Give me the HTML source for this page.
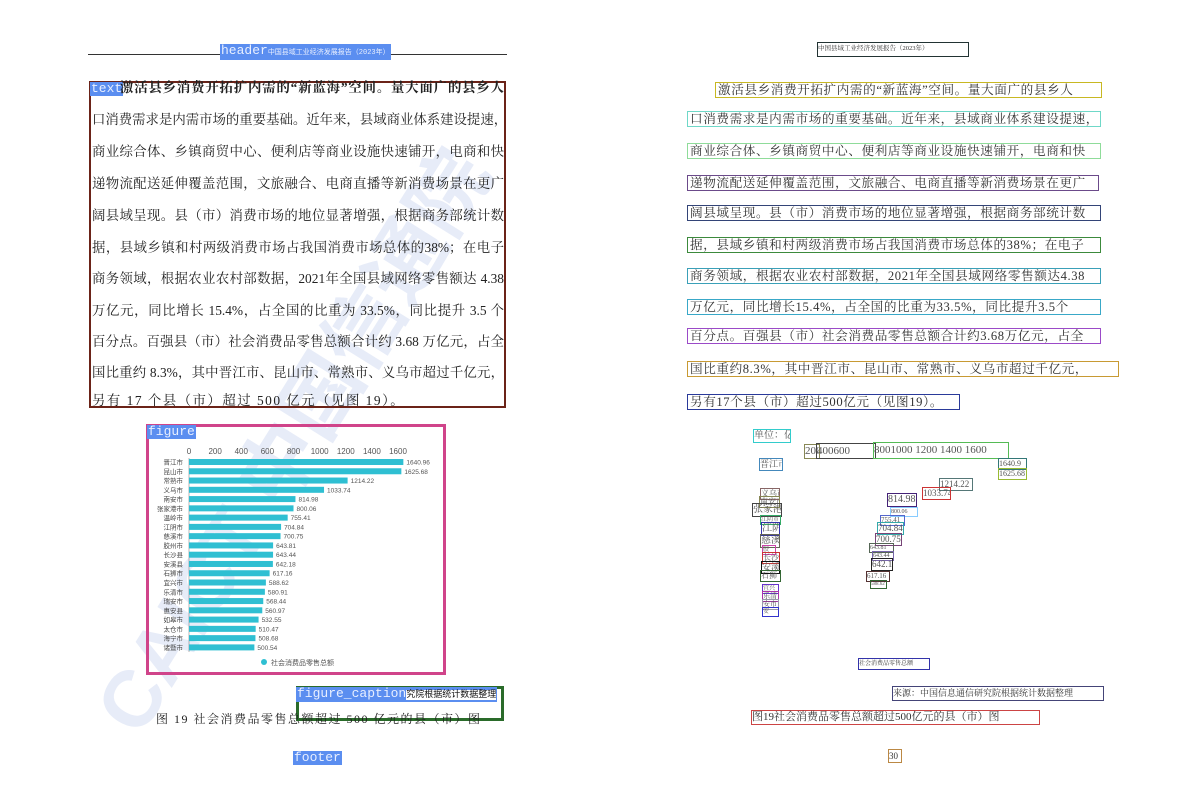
<!DOCTYPE html>
<html><head><meta charset="utf-8">
<style>
body{margin:0;width:1192px;height:808px;background:#fff;position:relative;overflow:hidden;font-family:"Liberation Serif","Noto Serif CJK SC",serif;}
.abs{position:absolute;}
.lbl{position:absolute;background:#5b8ef0;color:#e8efff;font-family:"Liberation Mono",monospace;font-size:13px;line-height:14px;padding:0 1px;}
.tl{position:absolute;left:92px;width:412px;font-size:13.4px;color:#222;text-align:justify;text-align-last:justify;white-space:nowrap;line-height:16px;}
.rl{position:absolute;font-size:12.6px;color:#333;white-space:nowrap;line-height:14px;padding:0 2px;box-sizing:border-box;letter-spacing:0.6px;}
.wm{position:absolute;color:rgba(165,185,228,0.27);font-family:"Liberation Sans","Noto Sans CJK SC",sans-serif;font-weight:bold;transform-origin:left top;white-space:nowrap;}
</style></head><body>
<div class="wm" style="left:62px;top:690px;font-size:80px;transform:rotate(-58deg);">CAICT 中国信通院</div>

<!-- left page -->
<div class="abs" style="left:88px;top:54px;width:419px;height:1px;background:#333;"></div>
<div class="lbl" style="left:220px;top:44px;">header<span style="font-size:7px;">中国县域工业经济发展报告（2023年）</span></div>

<div class="abs" style="left:89px;top:81px;width:413px;height:323px;border:2px solid #6b2318;"></div>
<div class="lbl" style="left:90px;top:82px;">text</div>
<div id="ltext"></div>

<div class="abs" style="left:146px;top:424px;width:294px;height:245px;border:3px solid #d0448a;"></div>
<div class="lbl" style="left:147px;top:425px;">figure</div>
<svg id="chart" class="abs" style="left:0;top:0;" width="1192" height="808"></svg>

<div class="abs" style="left:296px;top:686px;width:202px;height:29px;border:3px solid #2a6b2a;"></div>
<div class="lbl" style="left:296px;top:687px;">figure_caption<span style="font-size:9px;color:#111;background:#fff;">究院根据统计数据整理</span></div>
<div class="abs" style="left:156px;top:710px;font-size:12px;color:#222;letter-spacing:1.5px;white-space:nowrap;">图 19 社会消费品零售总额超过 500 亿元的县（市）图</div>
<div class="lbl" style="left:293px;top:751px;">footer</div>

<!-- right page -->
<div class="abs" style="left:817px;top:42px;width:150px;height:13px;border:1px solid #233;font-size:6.5px;color:#333;line-height:12px;">中国县域工业经济发展报告（2023年）</div>
<div id="rtext"></div>
<div id="rchart"></div>
<div class="abs" style="left:858px;top:658px;width:70px;height:10px;border:1px solid #33a;font-size:6px;line-height:10px;color:#333;">社会消费品零售总额</div>
<div class="abs" style="left:892px;top:686px;width:210px;height:13px;border:1px solid #447;font-size:9px;line-height:13px;color:#333;">来源：中国信息通信研究院根据统计数据整理</div>
<div class="abs" style="left:751px;top:710px;width:287px;height:13px;border:1px solid #c44;font-size:11px;line-height:13px;color:#333;">图19社会消费品零售总额超过500亿元的县（市）图</div>
<div class="abs" style="left:888px;top:749px;width:12px;height:12px;border:1px solid #b84;font-size:9px;line-height:12px;color:#333;">30</div>

<script>
const cities=["晋江市","昆山市","常熟市","义乌市","南安市","张家港市","温岭市","江阴市","慈溪市","胶州市","长沙县","安溪县","石狮市","宜兴市","乐清市","瑞安市","惠安县","如皋市","太仓市","海宁市","诸暨市"];
const values=[1640.96,1625.68,1214.22,1033.74,814.98,800.06,755.41,704.84,700.75,643.81,643.44,642.18,617.16,588.62,580.91,568.44,560.97,532.55,510.47,508.68,500.54];
const ticks=[0,200,400,600,800,1000,1200,1400,1600];
const NS="http://www.w3.org/2000/svg";
const svg=document.getElementById('chart');
const x=v=>189+v*(209/1600);
const y=i=>462+i*9.27;
function mk(t,a){const e=document.createElementNS(NS,t);for(const k in a)e.setAttribute(k,a[k]);svg.appendChild(e);return e;}
ticks.forEach(t=>{const e=mk('text',{x:x(t),y:454,'font-size':8,'text-anchor':'middle',fill:'#555','font-family':'Liberation Sans, sans-serif'});e.textContent=t;

});
const ax=mk('line',{x1:189,y1:458,x2:189,y2:652,stroke:'#888','stroke-width':0.6});


cities.forEach((c,i)=>{
 const b=mk('rect',{x:189,y:y(i)-3,width:x(values[i])-189,height:6,fill:'#2fbfd2'});
 
 
 const l=mk('text',{x:183,y:y(i)+2.5,'font-size':6.5,'text-anchor':'end',fill:'#444','font-family':'Noto Sans CJK SC, sans-serif'});l.textContent=c;
 
 
 const v=mk('text',{x:x(values[i])+3,y:y(i)+2.5,'font-size':6.5,fill:'#555','font-family':'Liberation Sans, sans-serif'});v.textContent=values[i].toFixed(2);
 
 
});
const lc=mk('circle',{cx:264,cy:662,r:3,fill:'#2fbfd2'});


const lt=mk('text',{x:271,y:665,'font-size':7,fill:'#555','font-family':'Noto Sans CJK SC, sans-serif'});lt.textContent='社会消费品零售总额';



const lines=["激活县乡消费开拓扩内需的“新蓝海”空间。量大面广的县乡人","口消费需求是内需市场的重要基础。近年来，县域商业体系建设提速，","商业综合体、乡镇商贸中心、便利店等商业设施快速铺开，电商和快","递物流配送延伸覆盖范围，文旅融合、电商直播等新消费场景在更广","阔县域呈现。县（市）消费市场的地位显著增强，根据商务部统计数","据，县域乡镇和村两级消费市场占我国消费市场总体的38%；在电子","商务领域，根据农业农村部数据，2021年全国县域网络零售额达 4.38","万亿元，同比增长 15.4%，占全国的比重为 33.5%，同比提升 3.5 个","百分点。百强县（市）社会消费品零售总额合计约 3.68 万亿元，占全","国比重约 8.3%，其中晋江市、昆山市、常熟市、义乌市超过千亿元，","另有 17 个县（市）超过 500 亿元（见图 19）。"];
const ly=[80,112,144,176,208,240,271,303,334,365,393];
const lt2=document.getElementById('ltext');
lines.forEach((s,i)=>{const d=document.createElement('div');d.className='tl';d.style.top=ly[i]+'px';d.textContent=s;
 if(i==0){d.style.left='120px';d.style.width='384px';d.style.fontWeight='bold';}
 if(i==10){d.style.textAlignLast='left';d.style.width='auto';d.style.letterSpacing='1.5px';}
 
 
 lt2.appendChild(d);});

const rl=["激活县乡消费开拓扩内需的“新蓝海”空间。量大面广的县乡人","口消费需求是内需市场的重要基础。近年来，县域商业体系建设提速，","商业综合体、乡镇商贸中心、便利店等商业设施快速铺开，电商和快","递物流配送延伸覆盖范围，文旅融合、电商直播等新消费场景在更广","阔县域呈现。县（市）消费市场的地位显著增强，根据商务部统计数","据，县域乡镇和村两级消费市场占我国消费市场总体的38%；在电子","商务领域，根据农业农村部数据，2021年全国县域网络零售额达4.38","万亿元，同比增长15.4%，占全国的比重为33.5%，同比提升3.5个","百分点。百强县（市）社会消费品零售总额合计约3.68万亿元，占全","国比重约8.3%，其中晋江市、昆山市、常熟市、义乌市超过千亿元，","另有17个县（市）超过500亿元（见图19）。"];
const rtop=[82,111,143,175,205,237,268,299,328,361,394];
const rleft=[715,687,687,687,687,687,687,687,687,687,687];
const rw=[387,414,414,412,414,414,414,414,414,432,273];
const rc=['#c8b822','#6fd8c8','#8fdc9a','#6b4a8a','#334477','#3c8a3c','#3aa0b8','#39a8c8','#9b4ac8','#c89a33','#2a3a9a'];
const rt=document.getElementById('rtext');
rl.forEach((s,i)=>{const d=document.createElement('div');d.className='rl';
 d.style.cssText+=`left:${rleft[i]}px;top:${rtop[i]}px;width:${rw[i]}px;height:16px;border:1px solid ${rc[i]};`;d.textContent=s;
 
 
 rt.appendChild(d);});

const boxes=[[753,429,36,12,'单位：亿元','#3cc'],[804,444,14,13,'200','#885'],[816,443,58,14,'400600','#444'],[873,442,134,15,'8001000 1200 1400 1600','#5b5'],[759,458,22,11,'晋江市','#48b'],[998,458,27,10,'1640.9','#377'],[998,468,27,10,'1625.68','#9b3'],[939,478,32,11,'1214.22','#577'],[922,487,27,11,'1033.74','#c33'],[887,493,28,12,'814.98','#427'],[890,507,26,8,'800.06','#8cf'],[880,515,23,9,'755.41','#56c'],[877,522,25,11,'704.84','#3aa'],[875,533,25,11,'700.75','#747'],[869,543,23,8,'643.81','#565'],[872,551,20,8,'643.44','#76a'],[871,558,20,11,'642.18','#222'],[866,571,22,9,'617.16','#533'],[870,580,15,7,'588.62','#363'],[760,488,18,10,'义乌市','#866'],[759,496,19,10,'南安市','#885'],[752,503,28,12,'张家港市','#444'],[760,515,19,8,'江阴市','#3a6'],[761,522,17,12,'江阴市','#33a'],[760,534,18,12,'慈溪市','#665'],[762,545,12,8,'胶','#c4a'],[762,552,16,10,'长沙','#c33'],[761,561,17,11,'安溪','#111'],[760,570,19,10,'石狮','#363'],[762,584,15,8,'宜兴','#63c'],[762,591,15,9,'乐清','#a3a'],[762,599,15,9,'安市','#99a'],[762,607,15,8,'安','#33c']];
const rcd=document.getElementById('rchart');
boxes.forEach(b=>{const d=document.createElement('div');d.className='abs';
 d.style.cssText=`left:${b[0]}px;top:${b[1]}px;width:${b[2]}px;height:${b[3]}px;border:1px solid ${b[5]};font-size:${Math.min(b[3]-2,11)}px;line-height:${b[3]}px;color:#555;white-space:nowrap;overflow:hidden;`;
 d.textContent=b[4];
 
 
 rcd.appendChild(d);});
</script>
</body></html>
